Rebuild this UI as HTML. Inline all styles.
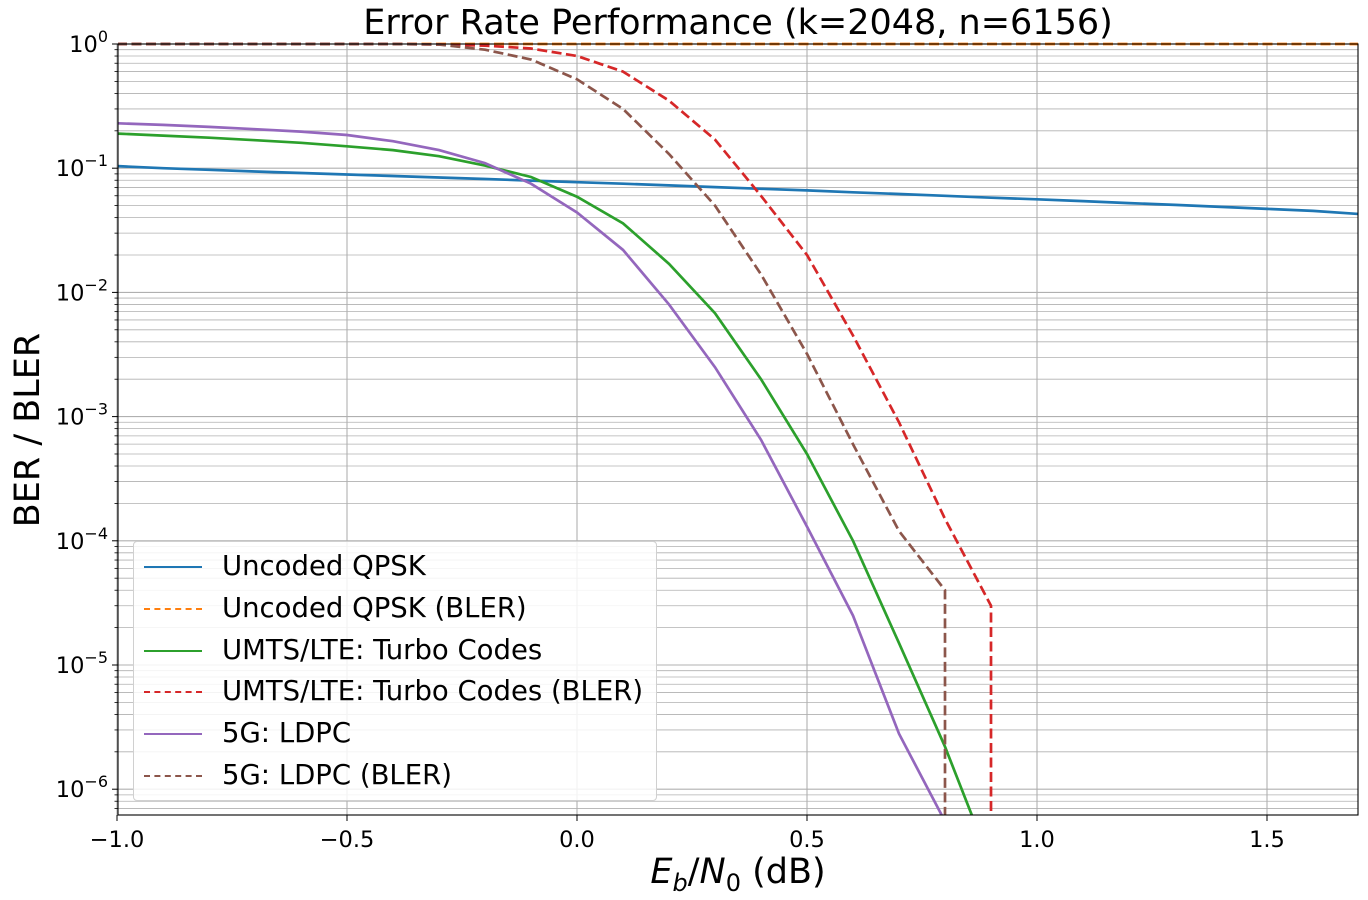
<!DOCTYPE html>
<html><head><meta charset="utf-8"><style>
html,body{margin:0;background:#fff;width:1368px;height:900px;overflow:hidden}
body{position:relative}
svg{font-family:"DejaVu Sans","Liberation Sans",sans-serif;display:block}
</style></head><body>
<svg id="c" width="1368" height="900"></svg>
<script>
const xs=[-1,-0.9,-0.8,-0.7,-0.6,-0.5,-0.4,-0.3,-0.2,-0.1,0,0.1,0.2,0.3,0.4,0.5,0.6,0.7,0.8,0.9,1.0,1.1,1.2,1.3,1.4,1.5,1.6,1.7];
const uncoded=[0.104,0.1,0.097,0.094,0.0915,0.089,0.0865,0.0842,0.0818,0.0795,0.0772,0.075,0.0727,0.0705,0.0683,0.0662,0.064,0.062,0.0599,0.0579,0.0562,0.0543,0.0524,0.0506,0.0488,0.047,0.0453,0.0428];
const uncodedBler=xs.map(()=>1);
const turbo=[0.19,0.183,0.176,0.168,0.16,0.15,0.14,0.125,0.105,0.085,0.059,0.036,0.017,0.0068,0.002,0.0005,0.0001,1.5e-5,2.2e-6,2.5e-7];
const turboBler=[1,1,1,1,1,1,1,0.99,0.97,0.92,0.8,0.6,0.35,0.17,0.06,0.02,0.0045,0.0009,0.00015,3e-5,0];
const ldpc=[0.23,0.223,0.215,0.206,0.197,0.185,0.165,0.14,0.11,0.075,0.044,0.022,0.008,0.0025,0.00065,0.00013,2.5e-5,2.8e-6,5.5e-7,1e-8];
const ldpcBler=[1,1,1,1,1,1,1,0.99,0.9,0.75,0.52,0.3,0.13,0.05,0.014,0.0032,0.0006,0.00012,4e-5,0];
const xTicks=[-1.0,-0.5,0.0,0.5,1.0,1.5];
const xTickLabels=["\u22121.0","\u22120.5","0.0","0.5","1.0","1.5"];
const yExps=[0,-1,-2,-3,-4,-5,-6];

const L=118,R=1358,T=44,B=815;
const X=v=>577+(v)*460;
const Y=v=>44-Math.log10(v)*124.2;
const NS="http://www.w3.org/2000/svg";
const svg=document.getElementById('c');
function el(t,a,p){const e=document.createElementNS(NS,t);for(const k in a)e.setAttribute(k,a[k]);(p||svg).appendChild(e);return e;}
const defs=el('defs',{});const cp=el('clipPath',{id:'cp'},defs);el('rect',{x:L,y:T-2,width:R-L,height:B-T+2},cp);
const grid=el('g',{stroke:'#b0b0b0'});


for(let e=0;e>=-7;e--){for(let m=1;m<10;m++){const y=Y(m*Math.pow(10,e));if(y<T-0.5||y>B)continue;el('line',{x1:L,x2:R,y1:y,y2:y,'stroke-width':m==1?1.1:0.8},grid);}}
xTicks.forEach(v=>el('line',{x1:X(v),x2:X(v),y1:T,y2:B,'stroke-width':1.1},grid));
const series=[[uncoded,'#1f77b4',false,'uncoded-qpsk-line'],[uncodedBler,'#ff7f0e',true,'uncoded-qpsk-bler-line'],[turbo,'#2ca02c',false,'turbo-line'],[turboBler,'#d62728',true,'turbo-bler-line'],[ldpc,'#9467bd',false,'ldpc-line'],[ldpcBler,'#8c564b',true,'ldpc-bler-line']];
const sg=el('g',{'clip-path':'url(#cp)'});
series.forEach(([d,c,dash,n])=>{
 let pts=[];let lastX=null;
 for(let i=0;i<d.length;i++){
   if(d[i]<=0){ if(lastX!==null) pts.push(lastX+','+(B+50)); break; }
   lastX=X(xs[i]).toFixed(1);
   pts.push(lastX+','+Y(d[i]).toFixed(1));
 }
 const p=el('polyline',{points:pts.join(' '),fill:'none',stroke:c,'stroke-width':2.7,'stroke-dasharray':dash?'10,4.5':'none'},sg);
 
 
});
el('rect',{x:L,y:T,width:R-L,height:B-T,fill:'none',stroke:'#000','stroke-width':1.1});
xTicks.forEach((v,i)=>{el('line',{x1:X(v),x2:X(v),y1:B,y2:B+6,stroke:'#000'});
 const t=el('text',{x:X(v),y:B+32,'font-size':22.5,'text-anchor':'middle'});t.textContent=xTickLabels[i];
 
 });
yExps.forEach(e=>{const y=Y(Math.pow(10,e));el('line',{x1:L-6,x2:L,y1:y,y2:y,stroke:'#000'});
 const t=el('text',{x:L-10,y:y+8,'font-size':22.5,'text-anchor':'end'});t.innerHTML='10<tspan dy="-10" font-size="16">'+(e<0?'\u2212'+(-e):e)+'</tspan>';
 
 });
for(let e=0;e>=-7;e--)for(let m=2;m<10;m++){const y=Y(m*Math.pow(10,e));if(y<T||y>B)continue;el('line',{x1:L-3.5,x2:L,y1:y,y2:y,stroke:'#000','stroke-width':0.8});}
</script>
<div style="position:absolute;left:118px;width:1240px;top:0px;text-align:center;font:35px 'DejaVu Sans',sans-serif;white-space:nowrap;line-height:46px">Error Rate Performance (k=2048, n=6156)</div>
<div style="position:absolute;left:118px;width:1240px;top:852px;height:40px;overflow:hidden;text-align:center;font:35px 'DejaVu Sans',sans-serif;white-space:nowrap;line-height:40px"><i>E<sub style="font-size:24px;line-height:0">b</sub></i>/<i>N</i><sub style="font-size:24px;line-height:0">0</sub> (dB)</div>
<div style="position:absolute;left:-102px;top:410px;width:260px;height:40px;line-height:40px;text-align:center;transform:rotate(-90deg);font:35px 'DejaVu Sans',sans-serif;white-space:nowrap">BER / BLER</div>
<div style="position:absolute;left:133px;top:541px;width:522px;height:258px;border:1px solid #d0d0d0;border-radius:4px;background:rgba(255,255,255,0.85);font:27.5px 'DejaVu Sans',sans-serif;white-space:nowrap">
<div style="position:absolute;left:10px;top:4px;line-height:41.8px">
<div><span style="display:inline-block;width:58px;border-top:2.7px solid #1f77b4;vertical-align:middle;margin-right:20px"></span>Uncoded QPSK</div>
<div><span style="display:inline-block;width:58px;border-top:2.7px dashed #ff7f0e;vertical-align:middle;margin-right:20px"></span>Uncoded QPSK (BLER)</div>
<div><span style="display:inline-block;width:58px;border-top:2.7px solid #2ca02c;vertical-align:middle;margin-right:20px"></span>UMTS/LTE: Turbo Codes</div>
<div><span style="display:inline-block;width:58px;border-top:2.7px dashed #d62728;vertical-align:middle;margin-right:20px"></span>UMTS/LTE: Turbo Codes (BLER)</div>
<div><span style="display:inline-block;width:58px;border-top:2.7px solid #9467bd;vertical-align:middle;margin-right:20px"></span>5G: LDPC</div>
<div><span style="display:inline-block;width:58px;border-top:2.7px dashed #8c564b;vertical-align:middle;margin-right:20px"></span>5G: LDPC (BLER)</div>
</div></div>
</body></html>
